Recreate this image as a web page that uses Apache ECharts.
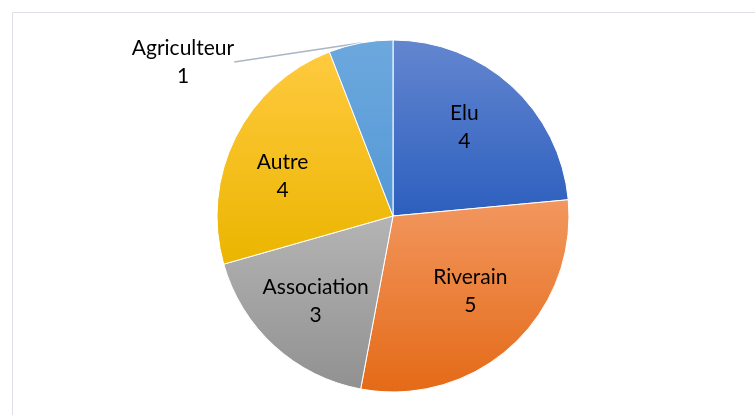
<!DOCTYPE html>
<html>
<head>
<meta charset="utf-8">
<script src="https://cdn.jsdelivr.net/npm/echarts@6/dist/echarts.min.js"></script>
<style>
  html, body { margin: 0; padding: 0; background: #fff; }
  #chart-container { width: 755px; height: 415px; }
</style>
</head>
<body>
<div id="chart-container"></div>
<script>
const categories = ['Elu', 'Riverain', 'Association', 'Autre', 'Agriculteur'];
const counts = [4, 5, 3, 4, 1];

// top / bottom gradient colours per slice
const colorTop = ['#6486D0', '#F2975F', '#B4B4B4', '#FFCA3F', '#6CA8DE'];
const colorBottom = ['#2C5FBE', '#E46A17', '#919191', '#EBB500', '#5598D6'];
// label nudges (px) so the inside labels sit where Excel puts them
const nudge = [[10, -22], [16, 8], [-16, 18], [-29, 1], [0, 0]];

var dom = document.getElementById('chart-container');
var myChart = echarts.init(dom, null, { renderer: 'canvas' });

const pieData = categories.map((name, i) => ({
  name: name,
  value: counts[i],
  itemStyle: {
    color: {
      type: 'linear', x: 0, y: 0, x2: 0, y2: 1,
      colorStops: [
        { offset: 0, color: colorTop[i] },
        { offset: 1, color: colorBottom[i] }
      ]
    }
  },
  label: name === 'Agriculteur'
    ? { position: 'outside' }
    : { position: 'inside', offset: nudge[i] },
  labelLine: { show: name === 'Agriculteur' }
}));

var option = {
  animation: false,
  graphic: [{
    type: 'rect',
    shape: { x: 12.5, y: 12.5, width: 800, height: 500 },
    style: { fill: 'none', stroke: '#DCE0E6', lineWidth: 1 },
    silent: true
  }],
  series: [{
    type: 'pie',
    center: [393, 216],
    radius: [0, 176],
    startAngle: 90,
    clockwise: true,
    avoidLabelOverlap: false,
    itemStyle: { borderColor: '#fff', borderWidth: 1 },
    label: {
      show: true,
      formatter: '{b}\n{c}',
      fontFamily: 'Lato',
      fontSize: 21,
      lineHeight: 28,
      color: '#000',
      align: 'center'
    },
    labelLine: {
      lineStyle: { color: '#A9B6C6', width: 1.5 },
      length: 0,
      length2: 0,
      smooth: false
    },
    labelLayout: function (params) {
      if (params.dataIndex === 4) {
        return { x: 183, y: 62, align: 'center', verticalAlign: 'middle' };
      }
    },
    data: pieData
  }]
};

myChart.setOption(option);
window.addEventListener('resize', myChart.resize);
</script>
</body>
</html>
